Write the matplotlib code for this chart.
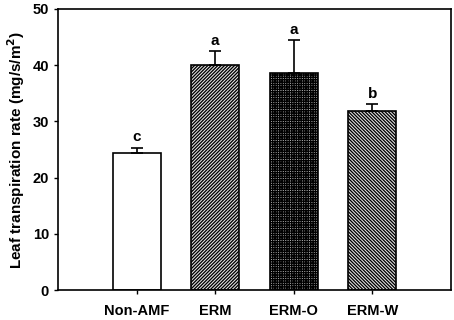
import matplotlib
matplotlib.use("Agg")
import matplotlib.pyplot as plt
import numpy as np

# data
groups = ["Non-AMF", "ERM", "ERM-O", "ERM-W"]
means = [24.3, 40.0, 38.7, 31.8]
errs = [1.0, 2.5, 5.8, 1.3]
letters = ["c", "a", "a", "b"]
hatches = ["", "/" * 10, "+" * 7, "\\" * 10]
faces = ["white", "#e8e8e8", "#b0b0b0", "#e8e8e8"]

plt.rcParams.update({"font.family": "Liberation Sans", "font.weight": "bold",
                     "hatch.linewidth": 0.95})

fig = plt.figure(figsize=(4.54, 3.2), dpi=100)
ax = fig.add_axes([58 / 454, 30 / 320, 393 / 454, 281 / 320])

x = np.arange(len(groups))
for xi, m, e, h, fc in zip(x, means, errs, hatches, faces):
    ax.bar(xi, m, width=0.61, facecolor=fc, edgecolor="black",
           linewidth=1.2, hatch=h, zorder=2)
    ax.errorbar(xi, m, yerr=[[0], [e]], fmt="none", ecolor="black",
                elinewidth=1.2, capsize=4, capthick=1.2, zorder=3)

for xi, m, e, lab in zip(x, means, errs, letters):
    ax.text(xi, m + e + 0.6, lab, ha="center", va="bottom",
            fontsize=11, fontweight="bold")

ax.set_xlim(-1, 4)
ax.set_ylim(0, 50)
ax.set_yticks([0, 10, 20, 30, 40, 50])
ax.set_xticks(x)
ax.set_xticklabels(groups)
ax.tick_params(axis="both", labelsize=10.5, width=1, length=3, direction="out")
ax.tick_params(axis="x", pad=7)
for s in ax.spines.values():
    s.set_linewidth(1.2)

ax.set_ylabel("Leaf transpiration rate (mg/s/m$^\\mathbf{2}$)",
              fontsize=11, fontweight="bold", labelpad=4)

fig.savefig("out.png", dpi=100)
